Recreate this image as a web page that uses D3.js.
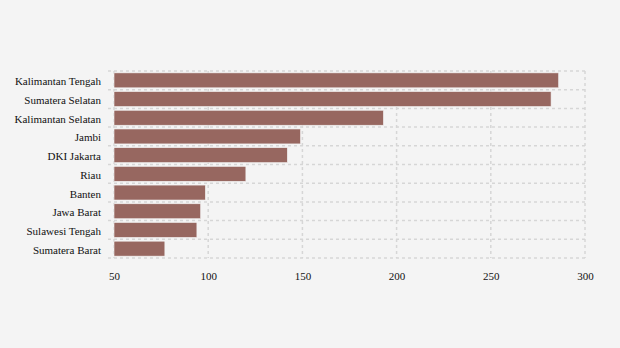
<!DOCTYPE html>
<html>
<head>
<meta charset="utf-8">
<script src="https://cdn.jsdelivr.net/npm/d3@7"></script>
<style>
  html, body { margin: 0; padding: 0; background: #f4f4f4; }
  svg { display: block; }
  text { font-family: "Liberation Serif", "Times New Roman", serif; }
</style>
</head>
<body>
<svg id="chart" width="620" height="348"></svg>
<script>
const provinces = [
  "Kalimantan Tengah", "Sumatera Selatan", "Kalimantan Selatan", "Jambi",
  "DKI Jakarta", "Riau", "Banten", "Jawa Barat", "Sulawesi Tengah", "Sumatera Barat"
];
const values = [286, 282, 193, 149, 142, 120, 98.5, 96, 94, 77];
const xTicks = [50, 100, 150, 200, 250, 300];

const margin = { top: 71, right: 35, bottom: 90, left: 114 };
const width = 620, height = 348;
const svg = d3.select("#chart");

const x = d3.scaleLinear().domain([50, 300]).range([margin.left, width - margin.right]);
const y = d3.scaleBand().domain(provinces).range([margin.top, height - margin.bottom])
  .paddingInner(0.2).paddingOuter(0.1);

const gridColor = "#d6d6d6";
const grid = svg.append("g");

// vertical grid lines at each tick
grid.selectAll("line.v").data(xTicks).join("line")
  .attr("x1", d => x(d)).attr("x2", d => x(d))
  .attr("y1", margin.top).attr("y2", height - margin.bottom)
  .attr("stroke", gridColor).attr("stroke-width", 1.5).attr("stroke-dasharray", "3,3");

// horizontal grid lines at band boundaries, with a short tick to the left
const step = (height - margin.bottom - margin.top) / provinces.length;
const hLines = d3.range(provinces.length + 1).map(i => margin.top + i * step);
grid.selectAll("line.h").data(hLines).join("line")
  .attr("x1", margin.left - 6).attr("x2", width - margin.right)
  .attr("y1", d => d).attr("y2", d => d)
  .attr("stroke", gridColor).attr("stroke-width", 1.5).attr("stroke-dasharray", "3,3");

// bars
svg.append("g").selectAll("rect").data(values).join("rect")
  .attr("x", x(50))
  .attr("y", (d, i) => y(provinces[i]))
  .attr("width", d => x(d) - x(50))
  .attr("height", y.bandwidth())
  .attr("fill", "#976760")
  .attr("stroke", "#f4f4f4")
  .attr("stroke-width", 0.6);

// category labels
const yAxis = d3.axisLeft(y).tickSize(0).tickPadding(13);
const gy = svg.append("g").attr("transform", `translate(${margin.left},1.5)`).call(yAxis);
gy.select(".domain").remove();
gy.selectAll("text").attr("font-size", 11).attr("fill", "#111")
  .attr("font-family", "'Liberation Serif', serif");

// value axis
const xAxis = d3.axisBottom(x).tickValues(xTicks).tickSize(0).tickPadding(14);
const gx = svg.append("g").attr("transform", `translate(0,${height - margin.bottom})`).call(xAxis);
gx.select(".domain").remove();
gx.selectAll("text").attr("font-size", 11).attr("fill", "#111")
  .attr("font-family", "'Liberation Serif', serif");
</script>
</body>
</html>
